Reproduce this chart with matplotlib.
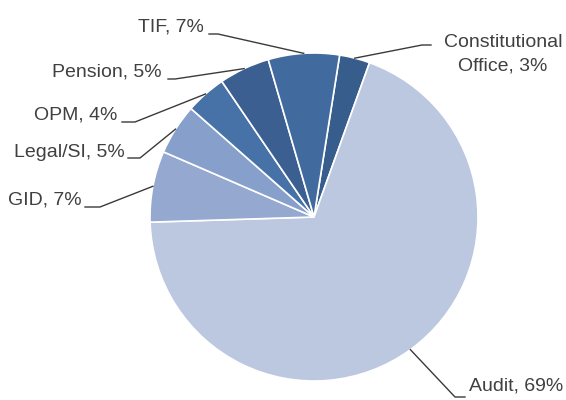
import numpy as np
import matplotlib.pyplot as plt

# slice data, clockwise from the top
names = ['Constitutional\nOffice', 'Audit', 'GID', 'Legal/SI', 'OPM', 'Pension', 'TIF']
shares = [3, 69, 7, 5, 4, 5, 7]
colors = ['#375d8c', '#bcc8e0', '#94a8d0', '#87a0cb', '#4672a8', '#3b5f90', '#416b9f']

# canvas in pixels, pie centre and radius
W, H = 566, 400
CX, CY, R = 314, 217, 164


def px(x, y):
    # pixel position -> data coords of the pie axes
    return (x - CX) / R, (CY - y) / R


# label layout: elbow of leader, end of leader, text anchor, alignment
layout = [
    ((422, 45), (431, 45), (503, 54), 'center'),
    ((455, 397), (465, 397), (469, 386), 'left'),
    ((100, 207), (85, 207), (82, 200), 'right'),
    ((140, 158), (128, 158), (125, 152), 'right'),
    ((135, 122), (122, 122), (117, 115), 'right'),
    ((175, 79), (168, 79), (162, 72), 'right'),
    ((218, 34), (209, 34), (204, 27), 'right'),
]

plt.rcParams['font.family'] = ['Liberation Sans', 'DejaVu Sans']

fig = plt.figure(figsize=(W / 100, H / 100), dpi=100)
ax = fig.add_axes([0, 0, 1, 1])
wedges, _ = ax.pie(shares, colors=colors, startangle=81, counterclock=False,
                   wedgeprops=dict(edgecolor='white', linewidth=1.2))
ax.set_xlim(-CX / R, (W - CX) / R)
ax.set_ylim(-(H - CY) / R, CY / R)
ax.axis('off')

for w, name, share, (elbow, end, txt, ha) in zip(wedges, names, shares, layout):
    mid = np.deg2rad((w.theta1 + w.theta2) / 2)
    ax_, ay_ = np.cos(mid), np.sin(mid)
    ex, ey = px(*elbow)
    nx, ny = px(*end)
    ax.plot([ax_, ex, nx], [ay_, ey, ny], color='#3a3a3a', lw=1.0)
    tx, ty = px(*txt)
    ax.text(tx, ty, f'{name}, {share}%', ha=ha, va='center', fontsize=14,
            color='#404040', linespacing=1.5)

fig.savefig('out.png', dpi=100)
